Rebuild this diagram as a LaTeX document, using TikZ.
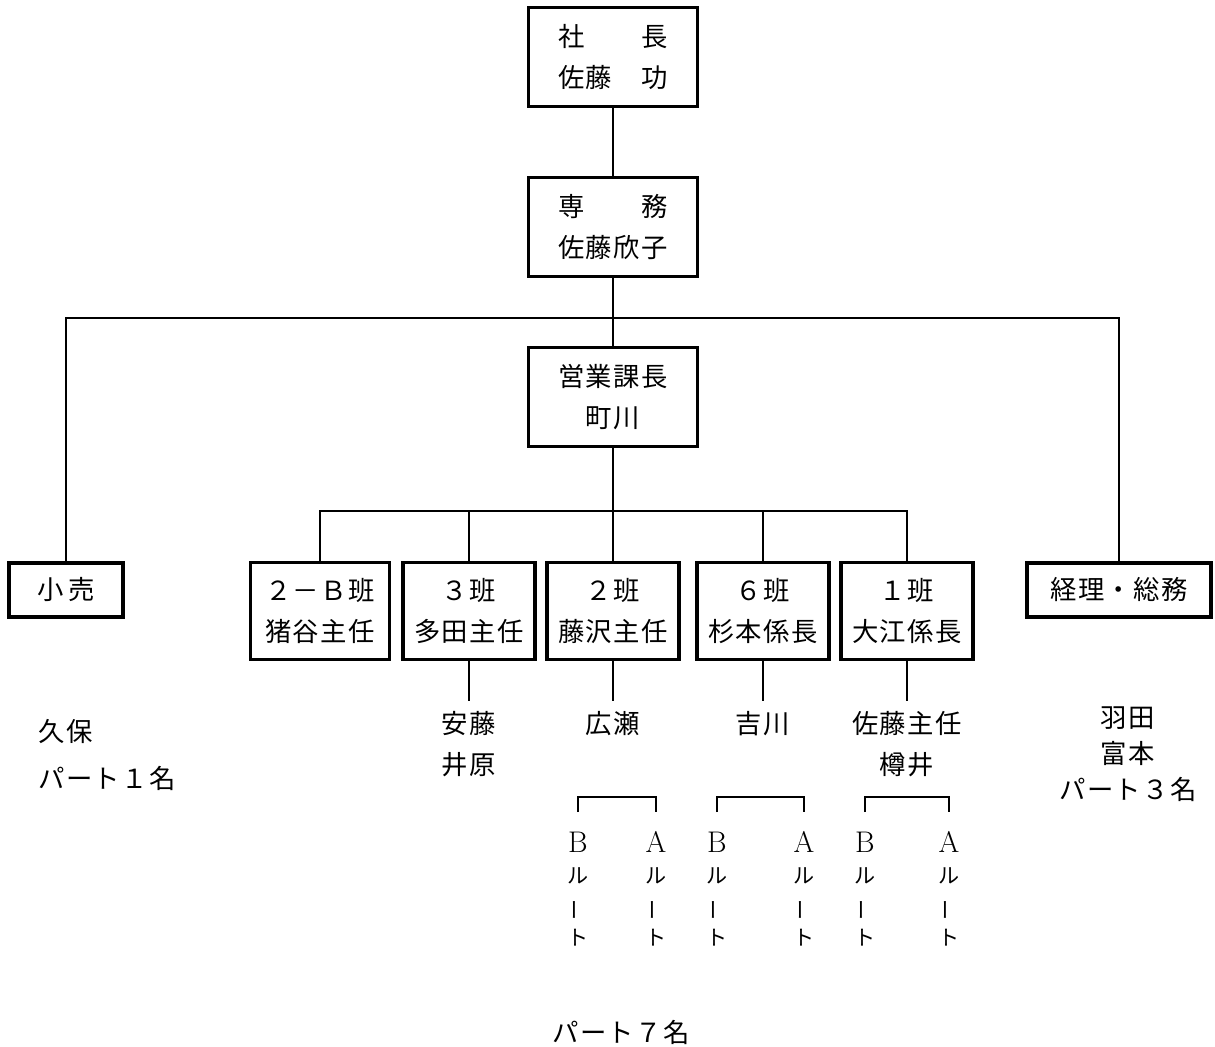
\documentclass[tikz,border=0pt]{standalone}
\usepackage{fontspec}
\usepackage{tikz}
\usetikzlibrary{positioning,calc}
\newfontfamily\jp[LetterSpace=5]{Noto Sans CJK JP}
\newcommand{\jpf}{\jp\fontsize{15}{23.2}\selectfont}
\newcommand{\tatebar}{\rotatebox[origin=c]{90}{ー}}
\newcommand{\latn}[1]{{\rmfamily\fontsize{17}{17.6}\selectfont #1}}

\begin{document}
\begin{tikzpicture}[x=0.02cm, y=-0.02cm,
  every node/.style={font=\jpf, inner sep=0pt},
  post/.style={draw, line width=1.9pt, align=center},
  head/.style={post, minimum width=3.38cm, minimum height=1.98cm},
  team/.style={post, minimum width=2.64cm, minimum height=1.94cm},
  side/.style={post, minimum height=1.08cm},
  member/.style={align=center, inner ysep=0.2cm},
  link/.style={line width=0.9pt},
  rail/.style={align=center, font=\jp\fontsize{12}{17.6}\selectfont}]
\useasboundingbox (0,0) rectangle (1215,1047);
% ---- top of the chart
\node[head] (pres) at (613,57) {社　　長\\佐藤　功};
\node[head] (senmu) at (613,227) {専　　務\\佐藤欣子};
\node[head] (eigyo) at (613,397) {営業課長\\町川};
\draw[link] (pres) -- (senmu);
\draw[link] (senmu) -- (eigyo);
% ---- side sections
\node[side, minimum width=2.28cm] (kouri) at (66,590) {小\,売};
\node[side, minimum width=3.68cm] (keiri) at (1119,590) {経理・総務};
\coordinate (bus1) at (613,318);
\draw[link] (kouri.north) |- (bus1) -| (keiri.north);
% ---- teams
\node[team, minimum width=2.78cm] (t2b) at (320,611) {２－Ｂ班\\猪谷主任};
\node[team] (t3) at (469,611) {３班\\多田主任};
\node[team] (t2) at (613,611) {２班\\藤沢主任};
\node[team] (t6) at (763,611) {６班\\杉本係長};
\node[team] (t1) at (907,611) {１班\\大江係長};
\coordinate (bus2) at (613,511);
\draw[link] (t2b.north) |- (bus2) -| (t1.north);
\draw[link] (eigyo) -- (t2);
\foreach \t in {t3,t6} {\draw[link] (\t.north) -- (\t.north |- bus2);}
% ---- members
\node[member] (ando) at (469,744) {安藤\\井原};
\node[member] (hirose) at (613,724) {広瀬};
\node[member] (yoshi) at (763,724) {吉川};
\node[member] (taru) at (907,744) {佐藤主任\\樽井};
\foreach \t/\m in {t3/ando,t2/hirose,t6/yoshi,t1/taru} {\draw[link] (\t.south) -- (\t.south |- \m.north);}
\node[member, align=left, anchor=west] (kubo) at (38,755) {久保\\[4pt]パート１名};
\node[member, font=\jp\fontsize{15}{20.4}\selectfont] (hada) at (1128,754) {羽田\\富本\\パート３名};
% ---- B / A rails
\foreach \b/\a [count=\i] in {578/656, 717/804, 865/949} {
  \node[rail] (b\i) at (\b,889) {\latn{B}\\ル\\\tatebar\\ト};
  \node[rail] (a\i) at (\a,889) {\latn{A}\\ル\\\tatebar\\ト};
  \coordinate (bl\i) at (\b,812);
  \coordinate (br\i) at (\a,812);
  \draw[link] (bl\i) -- ++(0,-15) -| (br\i);
}
\node (part7) at (621,1032) {パート７名};
\end{tikzpicture}
\end{document}
